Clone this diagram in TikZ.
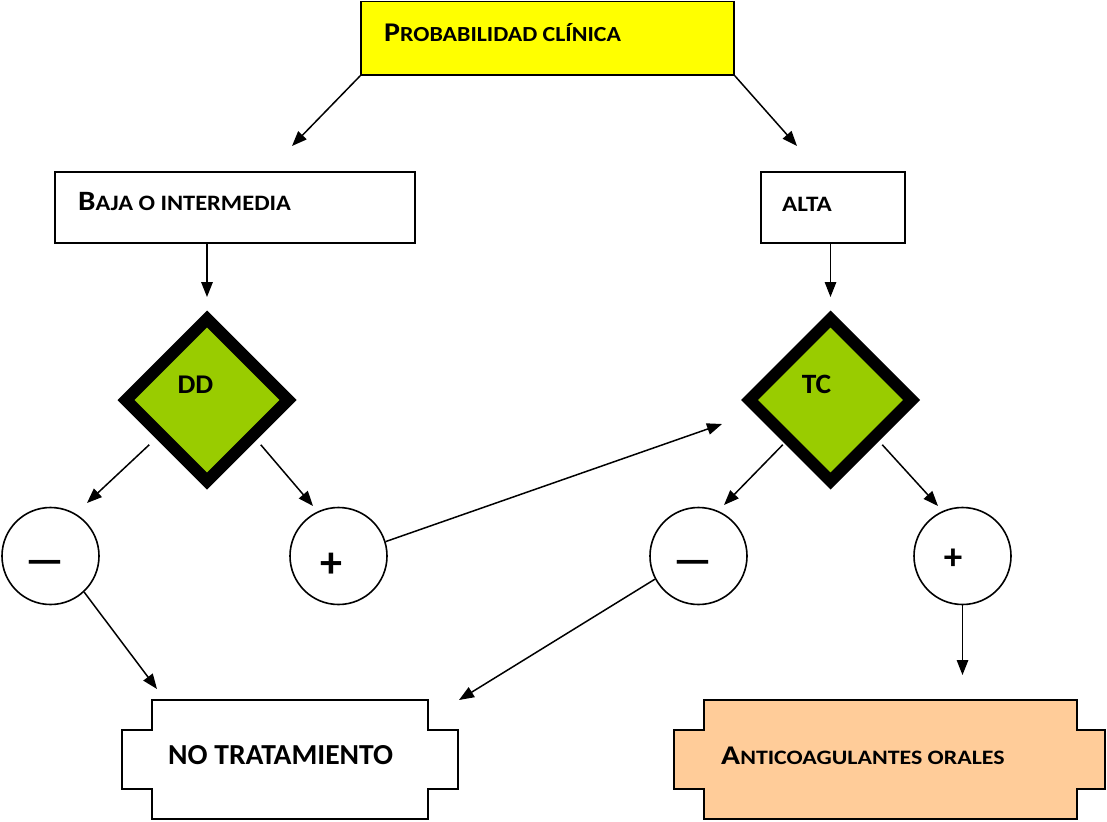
\documentclass[tikz,border=0pt]{standalone}
\usepackage{fontspec}
\setmainfont{Carlito}
\usetikzlibrary{arrows.meta,shapes.geometric}
\definecolor{yel}{HTML}{FFFF00}
\definecolor{grn}{HTML}{99CC00}
\definecolor{org}{HTML}{FFCC99}
\newcommand{\fs}[1]{\fontsize{#1}{#1}\selectfont}
\newcommand{\sx}[2]{\scalebox{#1}[1]{#2}}
\begin{document}
\begin{tikzpicture}[x=1pt,y=-1pt,
 box/.style={draw,line width=1.6pt,inner sep=0pt},
 dia/.style={diamond,draw,line width=12pt,fill=grn,minimum width=167pt,minimum height=167pt,inner sep=0pt,aspect=1},
 circ/.style={circle,draw,line width=1.6pt,minimum size=97pt,inner sep=0pt},
 lbl/.style={anchor=base west,inner sep=0pt,font=\bfseries},
 sym/.style={anchor=center,inner sep=0pt,font=\bfseries},
 conn/.style={line width=1.5pt,-{Triangle[length=15pt,width=11.5pt]}},
 outl/.style={draw,line width=1.6pt}]
\useasboundingbox (0,0) rectangle (1107,821);
% boxes
\node[box,fill=yel,minimum width=373pt,minimum height=73.5pt] (top) at (547.5,38.25) {};
\node[box,minimum width=360pt,minimum height=71pt] (baja) at (235,207.5) {};
\node[box,minimum width=144pt,minimum height=71pt] (alta) at (833,207.5) {};
\node[lbl] (ttop) at (384,41.7) {\sx{1.11}{{\fs{27}P}{\fs{21.5}ROBABILIDAD CLÍNICA}}};
\node[lbl] (tbaja) at (78,210) {\sx{1.11}{{\fs{28}B}{\fs{22}AJA O INTERMEDIA}}};
\node[lbl] (talta) at (782,211) {\sx{1.14}{\fs{22}ALTA}};
% diamonds
\node[dia] (dd) at (207,400) {};
\node[dia] (tc) at (830.5,400) {};
\node[lbl,anchor=base] (tdd) at (195.5,393) {\sx{1.05}{\fs{27}DD}};
\node[lbl,anchor=base] (ttc) at (816.5,393) {\sx{1.05}{\fs{28}TC}};
% circles
\node[circ] (m1) at (50.5,556) {};
\node[circ] (p1) at (338.5,556) {};
\node[circ] (m2) at (698.5,556) {};
\node[circ] (p2) at (962.5,556) {};
\node[sym] (tm1) at (45,567) {\fs{43}—};
\node[sym] (tp1) at (331.5,565.5) {\fs{44}+};
\node[sym] (tm2) at (693,567) {\fs{43}—};
\node[sym] (tp2) at (953,559) {\fs{37}+};
% bottom shapes
\draw[outl,fill=white] (152,700)--(428,700)--(428,730)--(458,730)--(458,789)--(428,789)--(428,819)--(152,819)--(152,789)--(122,789)--(122,730)--(152,730)--cycle;
\draw[outl,fill=org] (704,700)--(1077,700)--(1077,730)--(1105,730)--(1105,789)--(1077,789)--(1077,819)--(704,819)--(704,789)--(674,789)--(674,730)--(704,730)--cycle;
\node[lbl] (nt) at (168,764) {\sx{1.02}{\fs{29}NO TRATAMIENTO}};
\node[lbl] (ac) at (721,764) {\sx{1.165}{{\fs{27}A}{\fs{20.5}NTICOAGULANTES ORALES}}};
% connectors
\coordinate (t1) at (292,146);
\coordinate (t2) at (797,146);
\coordinate (t3) at (207,297);
\coordinate (t4) at (830.5,297);
\coordinate (t5) at (87,503);
\coordinate (t6) at (313,506);
\coordinate (t7) at (722,424);
\coordinate (t8) at (724,505);
\coordinate (t9) at (938,506);
\coordinate (t10) at (157,689);
\coordinate (t11) at (459,700);
\coordinate (t12) at (962.5,675);
\draw[conn] (top.south west) -- (t1);
\draw[conn] (top.south east) -- (t2);
\draw[conn] (baja.south -| dd) -- (t3);
\draw[conn] (alta.south -| tc) -- (t4);
\draw[conn] ([xshift=-13pt]dd.south west) -- (t5);
\draw[conn] ([xshift=9pt]dd.south east) -- (t6);
\draw[conn] (p1.17) -- (t7);
\draw[conn] ([xshift=-3pt]tc.south west) -- (t8);
\draw[conn] ([xshift=7pt]tc.south east) -- (t9);
\draw[conn] (m1.-47) -- (t10);
\draw[conn] (m2.208) -- (t11);
\draw[conn] (p2.south) -- (t12);
\end{tikzpicture}
\end{document}
